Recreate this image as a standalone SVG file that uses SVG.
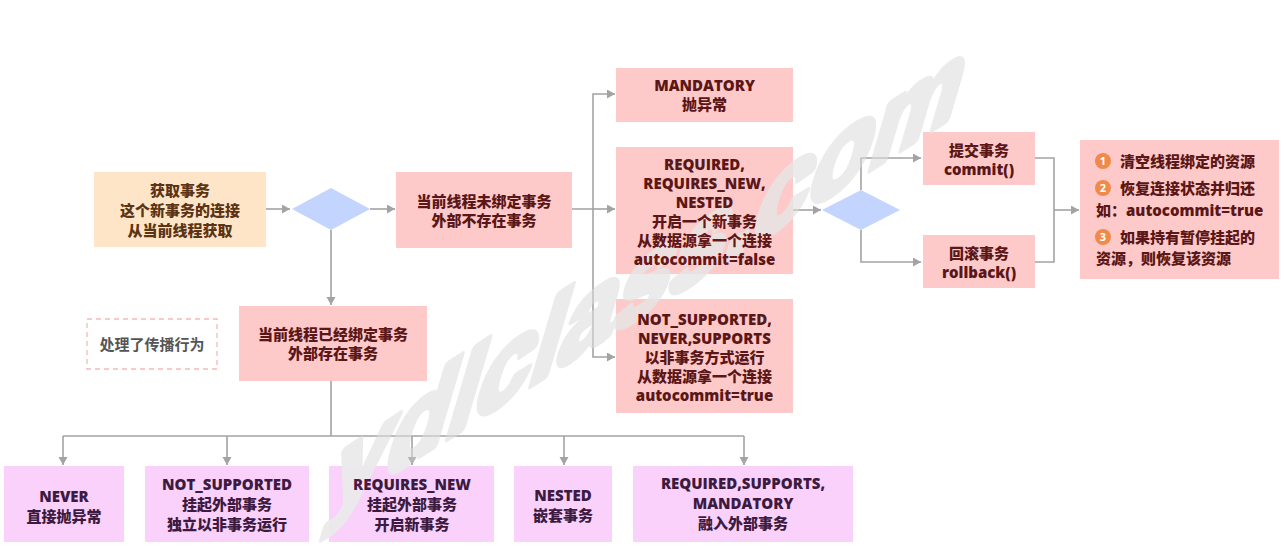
<svg xmlns="http://www.w3.org/2000/svg" xmlns:xlink="http://www.w3.org/1999/xlink" width="1286" height="545" viewBox="0 0 1286 545">
<style>
  .t { font-family: "Open Sans", "Noto Sans CJK SC", sans-serif; font-size: 15px; font-weight: 800; text-anchor: middle; }
  .tl { font-family: "Open Sans", "Noto Sans CJK SC", sans-serif; font-size: 15px; font-weight: 800; fill: #5b1717; }
  .pink { fill: #fec9c9; }
  .peach { fill: #ffe5c8; }
  .lilac { fill: #f9d1fb; }
  .dia { fill: #c3d5fe; }
  .tp { fill: #5b1717; }
  .tb { fill: #5a3414; }
  .tv { fill: #3d1a40; }
  .c { fill: none; stroke: #a3a3a3; stroke-width: 1.6; }
  .num { font-family: "Open Sans", "Liberation Sans", sans-serif; font-size: 11px; font-weight: 700; fill: #ffffff; text-anchor: middle; }
  .wm { font-family: "Liberation Sans", sans-serif; font-size: 100px; font-weight: 700; }
</style>
<defs>
  <marker id="ah" markerUnits="userSpaceOnUse" markerWidth="9" markerHeight="10" refX="8" refY="4.5" orient="auto">
    <path d="M0,0 L8,4.5 L0,9 z" fill="#a3a3a3"/>
  </marker>
</defs>
<rect width="1286" height="545" fill="#ffffff"/>

<g id="connectors">
  <path class="c" d="M266 209 H290" marker-end="url(#ah)"/>
  <path class="c" d="M370 209 H395" marker-end="url(#ah)"/>
  <path class="c" d="M572 209 H593 V94 H615" marker-end="url(#ah)"/>
  <path class="c" d="M593 209 H615" marker-end="url(#ah)"/>
  <path class="c" d="M593 209 V357 H615" marker-end="url(#ah)"/>
  <path class="c" d="M792 210 H821" marker-end="url(#ah)"/>
  <path class="c" d="M861 190 V158 H921" marker-end="url(#ah)"/>
  <path class="c" d="M861 230 V262 H921" marker-end="url(#ah)"/>
  <path class="c" d="M1035 158 H1054 V262 H1035"/>
  <path class="c" d="M1054 210 H1079" marker-end="url(#ah)"/>
  <path class="c" d="M331 230 V305" marker-end="url(#ah)"/>
  <path class="c" d="M331 381 V436"/>
  <path class="c" d="M63 436 H744"/>
  <path class="c" d="M63 436 V465" marker-end="url(#ah)"/>
  <path class="c" d="M227 436 V465" marker-end="url(#ah)"/>
  <path class="c" d="M412 436 V465" marker-end="url(#ah)"/>
  <path class="c" d="M564 436 V465" marker-end="url(#ah)"/>
  <path class="c" d="M744 436 V465" marker-end="url(#ah)"/>
</g>

<g id="get-tx">
  <rect class="peach" x="94" y="172" width="172" height="75"/>
  <text class="t tb" x="180" y="196">获取事务</text>
  <text class="t tb" x="180" y="216">这个新事务的连接</text>
  <text class="t tb" x="180" y="236">从当前线程获取</text>
</g>

<g id="decision1">
  <polygon class="dia" points="292,209 331,188 370,209 331,230"/>
</g>

<g id="not-bound">
  <rect class="pink" x="396" y="172" width="176" height="76"/>
  <text class="t tp" x="484" y="206.5">当前线程未绑定事务</text>
  <text class="t tp" x="484" y="225.5">外部不存在事务</text>
</g>

<g id="mandatory">
  <rect class="pink" x="616" y="68" width="177" height="54"/>
  <text class="t tp" x="704.5" y="90.5">MANDATORY</text>
  <text class="t tp" x="704.5" y="109.5">抛异常</text>
</g>

<g id="required-new">
  <rect class="pink" x="616" y="147" width="177" height="127"/>
  <text class="t tp" x="704.5" y="169.5">REQUIRED,</text>
  <text class="t tp" x="704.5" y="188.5">REQUIRES_NEW,</text>
  <text class="t tp" x="704.5" y="207.5">NESTED</text>
  <text class="t tp" x="704.5" y="226.5">开启一个新事务</text>
  <text class="t tp" x="704.5" y="245.5">从数据源拿一个连接</text>
  <text class="t tp" x="704.5" y="264.5">autocommit=false</text>
</g>

<g id="not-supported">
  <rect class="pink" x="616" y="299" width="177" height="114"/>
  <text class="t tp" x="704.5" y="324.5">NOT_SUPPORTED,</text>
  <text class="t tp" x="704.5" y="343.5">NEVER,SUPPORTS</text>
  <text class="t tp" x="704.5" y="362.5">以非事务方式运行</text>
  <text class="t tp" x="704.5" y="381.5">从数据源拿一个连接</text>
  <text class="t tp" x="704.5" y="400.5">autocommit=true</text>
</g>

<g id="decision2">
  <polygon class="dia" points="822,210 861,190 900,210 861,230"/>
</g>

<g id="commit">
  <rect class="pink" x="923" y="132" width="112" height="53"/>
  <text class="t tp" x="979" y="155.5">提交事务</text>
  <text class="t tp" x="979" y="174.5">commit()</text>
</g>

<g id="rollback">
  <rect class="pink" x="923" y="235" width="112" height="53"/>
  <text class="t tp" x="979" y="258.5">回滚事务</text>
  <text class="t tp" x="979" y="277.5">rollback()</text>
</g>

<g id="cleanup">
  <rect class="pink" x="1080" y="140" width="199" height="139"/>
  <circle cx="1103" cy="161" r="8" fill="#f08a4a"/>
  <text class="num" x="1103" y="165">1</text>
  <text class="tl" x="1120" y="166.5">清空线程绑定的资源</text>
  <circle cx="1103" cy="188" r="8" fill="#f08a4a"/>
  <text class="num" x="1103" y="192">2</text>
  <text class="tl" x="1120" y="193.5">恢复连接状态并归还</text>
  <text class="tl" x="1096" y="215.5">如：autocommit=true</text>
  <circle cx="1103" cy="237" r="8" fill="#f08a4a"/>
  <text class="num" x="1103" y="241">3</text>
  <text class="tl" x="1120" y="242.5">如果持有暂停挂起的</text>
  <text class="tl" x="1096" y="263.5">资源，则恢复该资源</text>
</g>

<g id="bound">
  <rect class="pink" x="239" y="306" width="188" height="75"/>
  <text class="t tp" x="333" y="340">当前线程已经绑定事务</text>
  <text class="t tp" x="333" y="359">外部存在事务</text>
</g>

<g id="note">
  <rect x="87" y="319" width="130" height="50" fill="none" stroke="#f6b9b9" stroke-width="1.3" stroke-dasharray="5,4"/>
  <text class="t" x="152" y="349.5" fill="#555555" style="font-weight:700">处理了传播行为</text>
</g>

<g id="never">
  <rect class="lilac" x="4" y="466" width="120" height="76"/>
  <text class="t tv" x="64" y="501.5">NEVER</text>
  <text class="t tv" x="64" y="521.5">直接抛异常</text>
</g>

<g id="b-not-supported">
  <rect class="lilac" x="145" y="466" width="164" height="76"/>
  <text class="t tv" x="227" y="489.5">NOT_SUPPORTED</text>
  <text class="t tv" x="227" y="509.5">挂起外部事务</text>
  <text class="t tv" x="227" y="529.5">独立以非事务运行</text>
</g>

<g id="b-requires-new">
  <rect class="lilac" x="329" y="466" width="165" height="76"/>
  <text class="t tv" x="412" y="489.5">REQUIRES_NEW</text>
  <text class="t tv" x="412" y="509.5">挂起外部事务</text>
  <text class="t tv" x="412" y="529.5">开启新事务</text>
</g>

<g id="b-nested">
  <rect class="lilac" x="514" y="466" width="98" height="76"/>
  <text class="t tv" x="563" y="500.5">NESTED</text>
  <text class="t tv" x="563" y="520.5">嵌套事务</text>
</g>

<g id="b-join">
  <rect class="lilac" x="633" y="466" width="220" height="76"/>
  <text class="t tv" x="743" y="488.5">REQUIRED,SUPPORTS,</text>
  <text class="t tv" x="743" y="508.5">MANDATORY</text>
  <text class="t tv" x="743" y="528.5">融入外部事务</text>
</g>

<use xlink:href="#wml" href="#wml" fill="#1a1a1a" stroke="#1a1a1a" stroke-width="7" stroke-linejoin="round" style="mix-blend-mode:color-dodge"/>
<g id="watermark" fill="#ebebeb" stroke="#ebebeb" stroke-width="7" stroke-linejoin="round" style="mix-blend-mode:darken">
  <g id="wml" class="wm">
    <text transform="translate(325,516) skewY(-33) skewX(-20)">y</text>
    <text transform="translate(380.6,480.7) skewY(-33) skewX(-20)">d</text>
    <text transform="translate(441.7,441.9) skewY(-33) skewX(-20)">l</text>
    <text transform="translate(469.5,424.2) skewY(-33) skewX(-20)">c</text>
    <text transform="translate(525.1,388.9) skewY(-33) skewX(-20)">l</text>
    <text transform="translate(552.9,371.3) skewY(-33) skewX(-20)">a</text>
    <text transform="translate(608.5,336) skewY(-33) skewX(-20)">s</text>
    <text transform="translate(664.1,300.7) skewY(-33) skewX(-20)">s</text>
    <text transform="translate(719.7,265.4) skewY(-33) skewX(-20)">.</text>
    <text transform="translate(747.5,247.7) skewY(-33) skewX(-20)">c</text>
    <text transform="translate(803.1,212.4) skewY(-33) skewX(-20)">o</text>
    <text transform="translate(864.2,173.6) skewY(-33) skewX(-20)">m</text>
  </g>
</g>
</svg>
